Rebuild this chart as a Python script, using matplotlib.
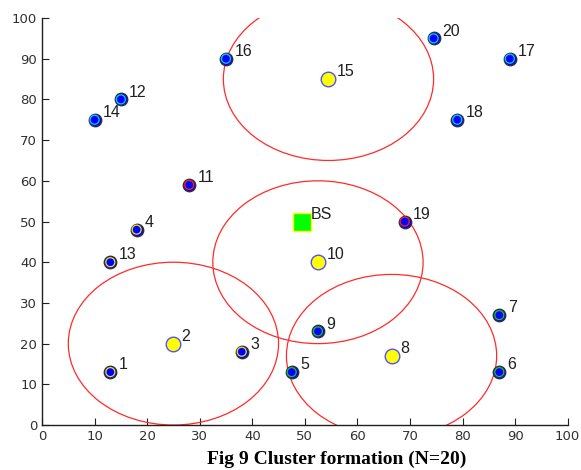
import matplotlib
matplotlib.use("Agg")
import matplotlib.pyplot as plt
from matplotlib.patches import Circle

# Node data
node_ids = [1, 3, 4, 13, 5, 6, 7, 9, 12, 14, 16, 17, 18, 20, 11, 19]
node_x = [13, 38, 18, 13, 47.5, 87, 87, 52.5, 15, 10, 35, 89, 79, 74.5, 28, 69]
node_y = [13, 18, 48, 40, 13, 13, 27, 23, 80, 75, 90, 90, 75, 95, 59, 50]
node_ring = ['#e8e020'] * 4 + ['#20c040'] * 4 + ['#00d0ff'] * 6 + ['#ff2020'] * 2

# Cluster heads
head_ids = [2, 10, 8, 15]
head_x = [25, 52.5, 66.5, 54.5]
head_y = [20, 40, 17, 85]
cluster_radius = 20

# Base station
bs_x, bs_y = 49.5, 50

xticks = list(range(0, 101, 10))
yticks = list(range(0, 101, 10))

fig = plt.figure(figsize=(5.81, 4.70), dpi=100)
ax = fig.add_axes([0.0723, 0.0957, 0.9047, 0.866])
ax.set_xlim(0, 100)
ax.set_ylim(0, 100)

for cx, cy in zip(head_x, head_y):
    ax.add_patch(Circle((cx, cy), cluster_radius, fill=False, edgecolor='#ff2a2a', lw=0.9, zorder=2))

ax.scatter(node_x, node_y, s=80, c='#0000ff', edgecolors='#303030', linewidths=1.0, zorder=4)
ax.scatter(node_x, node_y, s=42, c='#0000ff', edgecolors=node_ring, linewidths=0.9, zorder=5)
ax.scatter(head_x, head_y, s=110, c='#ffff00', edgecolors='#5050ff', linewidths=1.0, zorder=5)
ax.scatter([bs_x], [bs_y], s=180, marker='s', c='#00ff00', edgecolors='#ffff00', linewidths=1.0, zorder=5)

lab_kw = dict(textcoords='offset points', xytext=(6, 2), ha='left', va='baseline',
              fontsize=11.5, color='#202020', family='Liberation Sans', zorder=6)
for i, x, y in zip(node_ids, node_x, node_y):
    ax.annotate(str(i), (x, y), **lab_kw)
for i, x, y in zip(head_ids, head_x, head_y):
    ax.annotate(str(i), (x, y), **lab_kw)
ax.annotate('BS', (bs_x, bs_y), **lab_kw)

for s in ['top', 'right']:
    ax.spines[s].set_visible(False)
for s in ['left', 'bottom']:
    ax.spines[s].set_color('#202020')
    ax.spines[s].set_linewidth(1.0)

ax.set_xticks(xticks)
ax.set_yticks(yticks)
ax.tick_params(direction='in', length=5, width=0.8, colors='#202020', labelsize=9.5)
for lbl in ax.get_xticklabels() + ax.get_yticklabels():
    lbl.set_family('DejaVu Sans')
    lbl.set_color('#303030')

fig.text(0.58, 0.013, 'Fig 9 Cluster formation (N=20)', ha='center', va='baseline',
         fontsize=14, fontweight='bold', family='Liberation Serif', color='black')

fig.savefig('out.png', dpi=100)
